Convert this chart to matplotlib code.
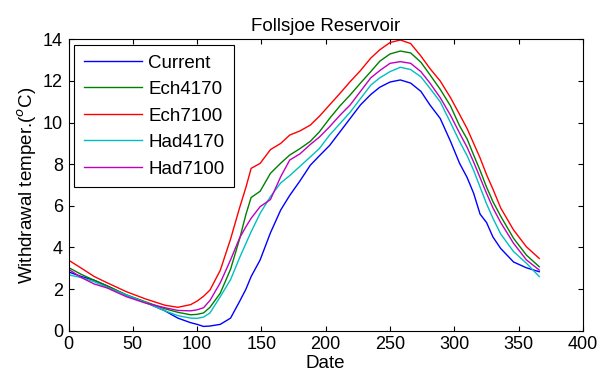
import matplotlib
matplotlib.use("Agg")
import matplotlib.pyplot as plt

plt.rcParams['font.family'] = ['Liberation Sans', 'DejaVu Sans']

days = [1, 10, 20, 30, 45, 60, 75, 85, 95, 100, 105, 110, 118, 126, 133, 138, 142, 149,
        157, 165, 172, 180, 188, 195, 203, 211, 219, 227, 235, 242, 250, 258, 266, 274,
        281, 289, 297, 304, 310, 315, 320, 325, 330, 336, 346, 356, 366]

current = [2.8, 2.6, 2.42, 2.15, 1.7, 1.35, 0.95, 0.6, 0.38, 0.3, 0.2, 0.22, 0.3, 0.6,
           1.4, 2.0, 2.6, 3.4, 4.7, 5.8, 6.5, 7.2, 7.95, 8.4, 8.9, 9.55, 10.2, 10.85, 11.35,
           11.7, 11.95, 12.05, 11.9, 11.5, 10.85, 10.2, 9.1, 8.05, 7.35, 6.6, 5.6, 5.2,
           4.5, 3.95, 3.3, 3.02, 2.83]

ech4170 = [3.0, 2.7, 2.42, 2.15, 1.72, 1.38, 1.05, 0.88, 0.76, 0.78, 0.85, 1.12, 1.8,
           2.95, 4.4, 5.6, 6.4, 6.7, 7.56, 8.05, 8.44, 8.75, 9.1, 9.55, 10.2, 10.8, 11.33,
           11.9, 12.45, 12.95, 13.3, 13.44, 13.35, 12.9, 12.3, 11.6, 10.8, 9.85, 9.2, 8.44,
           7.7, 6.9, 6.2, 5.5, 4.44, 3.63, 3.07]

ech7100 = [3.35, 3.0, 2.6, 2.3, 1.87, 1.52, 1.22, 1.12, 1.25, 1.42, 1.65, 1.95, 2.9,
           4.4, 5.9, 6.9, 7.8, 8.04, 8.7, 9.0, 9.4, 9.6, 9.88, 10.3, 10.85, 11.4, 11.97,
           12.5, 13.1, 13.5, 13.85, 13.97, 13.8, 13.2, 12.6, 12.0, 11.2, 10.4, 9.7, 9.0,
           8.3, 7.5, 6.8, 5.9, 4.84, 4.03, 3.47]

had4170 = [2.67, 2.55, 2.35, 2.08, 1.71, 1.35, 0.95, 0.72, 0.6, 0.59, 0.65, 0.85, 1.63,
           2.45, 3.5, 4.2, 4.75, 5.64, 6.44, 7.1, 7.45, 7.9, 8.35, 8.75, 9.4, 9.95, 10.5,
           11.15, 11.8, 12.15, 12.45, 12.66, 12.55, 12.2, 11.65, 11.0, 10.0, 9.1, 8.4, 7.7,
           6.9, 6.1, 5.4, 4.65, 3.8, 3.24, 2.6]

had7100 = [2.91, 2.55, 2.24, 2.05, 1.63, 1.32, 1.1, 0.97, 0.95, 1.0, 1.1, 1.45, 2.3,
           3.4, 4.45, 5.0, 5.4, 5.96, 6.3, 7.4, 8.2, 8.5, 8.95, 9.3, 9.8, 10.35, 10.85,
           11.5, 12.15, 12.5, 12.85, 12.93, 12.85, 12.45, 11.9, 11.2, 10.35, 9.5, 8.8,
           8.1, 7.35, 6.6, 5.9, 5.2, 4.2, 3.4, 2.91]

series = [("Current", current, "#0000ff"),
          ("Ech4170", ech4170, "#008000"),
          ("Ech7100", ech7100, "#ff0000"),
          ("Had4170", had4170, "#00bfbf"),
          ("Had7100", had7100, "#bf00bf")]

fig = plt.figure(figsize=(6.1, 3.9), dpi=100)
ax = fig.add_axes([0.1123, 0.1523, 0.8434, 0.7467])

for name, vals, col in series:
    ax.plot(days, vals, color=col, lw=1.0, label=name)

ax.set_xlim(0, 400)
ax.set_ylim(0, 14)
ax.set_xticks(range(0, 401, 50))
ax.set_yticks(range(0, 15, 2))
ax.tick_params(direction='in', top=True, right=True, labelsize=13, length=3.8,
               width=0.8, pad=4)
for s in ax.spines.values():
    s.set_linewidth(0.8)

ax.set_title("Follsjoe Reservoir", fontsize=13.5, pad=6)
ax.set_xlabel("Date", fontsize=13.5, labelpad=1)
ax.set_ylabel("Withdrawal temper.($^{o}$C)", fontsize=13.5, labelpad=3)

leg = ax.legend(loc='upper left', fontsize=13.5, handlelength=3.1, handletextpad=0.35,
                frameon=True, fancybox=False, edgecolor='black', framealpha=1,
                borderaxespad=0.3, labelspacing=0.5, borderpad=0.5)
leg.get_frame().set_linewidth(0.8)

fig.savefig("out.png", dpi=100)
